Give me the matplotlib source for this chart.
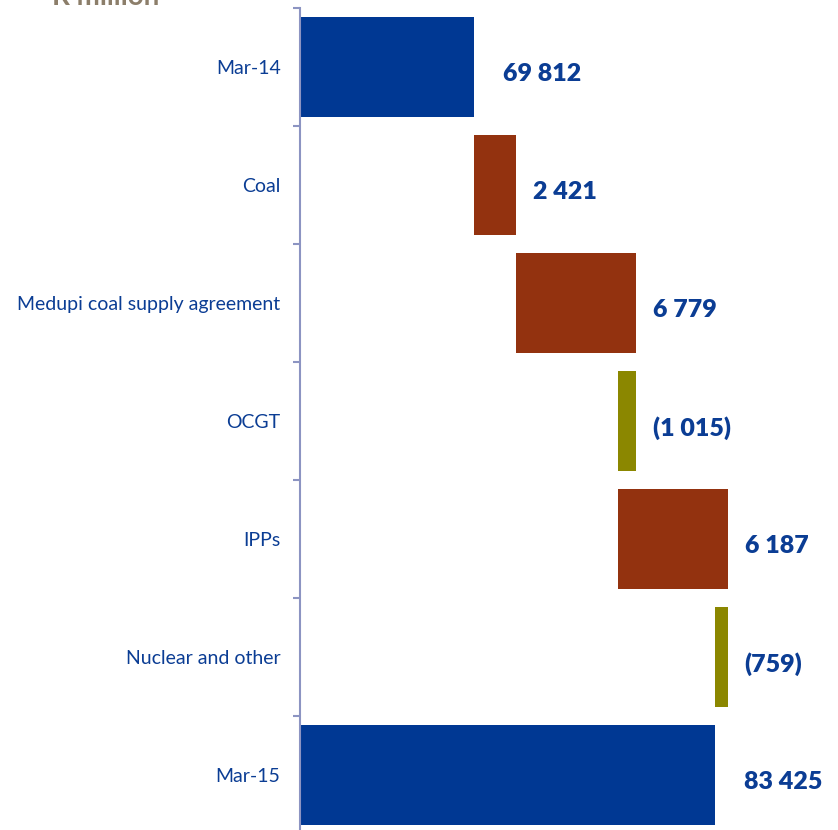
"""Horizontal waterfall of the R million bridge from Mar-14 to Mar-15."""

import matplotlib

matplotlib.use("Agg")
import matplotlib.pyplot as plt

CATEGORIES = [
    "Mar-14",
    "Coal",
    "Medupi coal supply agreement",
    "OCGT",
    "IPPs",
    "Nuclear and other",
    "Mar-15",
]
VALUES = [69812, 2421, 6779, -1015, 6187, -759, 83425]
IS_TOTAL = [True, False, False, False, False, False, True]
LABELS = ["69 812", "2 421", "6 779", "(1 015)", "6 187", "(759)", "83 425"]

BLUE = "#003893"
BROWN = "#93320F"
OLIVE = "#8B8700"
TEXT_BLUE = "#0B3D94"
SPINE = "#8C94C2"
AXIS_START = 60000
AXIS_END = 90400

fig = plt.figure(figsize=(8.38, 8.30), dpi=100)
ax = fig.add_axes([300 / 838, -4 / 830, 538 / 838, 826 / 830])

running = 0
for index, (value, total, label) in enumerate(zip(VALUES, IS_TOTAL, LABELS)):
    if total:
        left, width, color = AXIS_START, value - AXIS_START, BLUE
        running = value
    else:
        left, width = running, value
        color = BROWN if value > 0 else OLIVE
        running += value
    ax.barh(index, width, left=left, height=0.84, color=color, linewidth=0)
    end = max(left, left + width)
    ax.annotate(
        label,
        (end, index),
        xytext=(21 if total else 12, -5),
        textcoords="offset points",
        ha="left",
        va="center",
        fontsize=18,
        fontweight="heavy",
        family="Lato",
        color=TEXT_BLUE,
    )

ax.set_xlim(AXIS_START, AXIS_END)
ax.set_ylim(len(CATEGORIES) - 0.5, -0.5)
ax.set_yticks(range(len(CATEGORIES)), CATEGORIES)
ax.set_yticks([i - 0.5 for i in range(len(CATEGORIES) + 1)], minor=True)
ax.tick_params(axis="y", which="major", length=0, pad=14, labelsize=14, labelcolor=TEXT_BLUE)
ax.tick_params(axis="y", which="minor", length=5, width=1.5, color=SPINE)
for tick in ax.get_yticklabels():
    tick.set_family("Lato")
ax.set_xticks([])
for side in ("top", "right", "bottom"):
    ax.spines[side].set_visible(False)
ax.spines["left"].set_color(SPINE)
ax.spines["left"].set_linewidth(1.5)

fig.text(52 / 838, 1 - 5 / 830, "R million", fontsize=20, fontweight="bold",
         family="Lato", color="#8C7E6A", va="baseline")

fig.savefig("out.png", dpi=100)
